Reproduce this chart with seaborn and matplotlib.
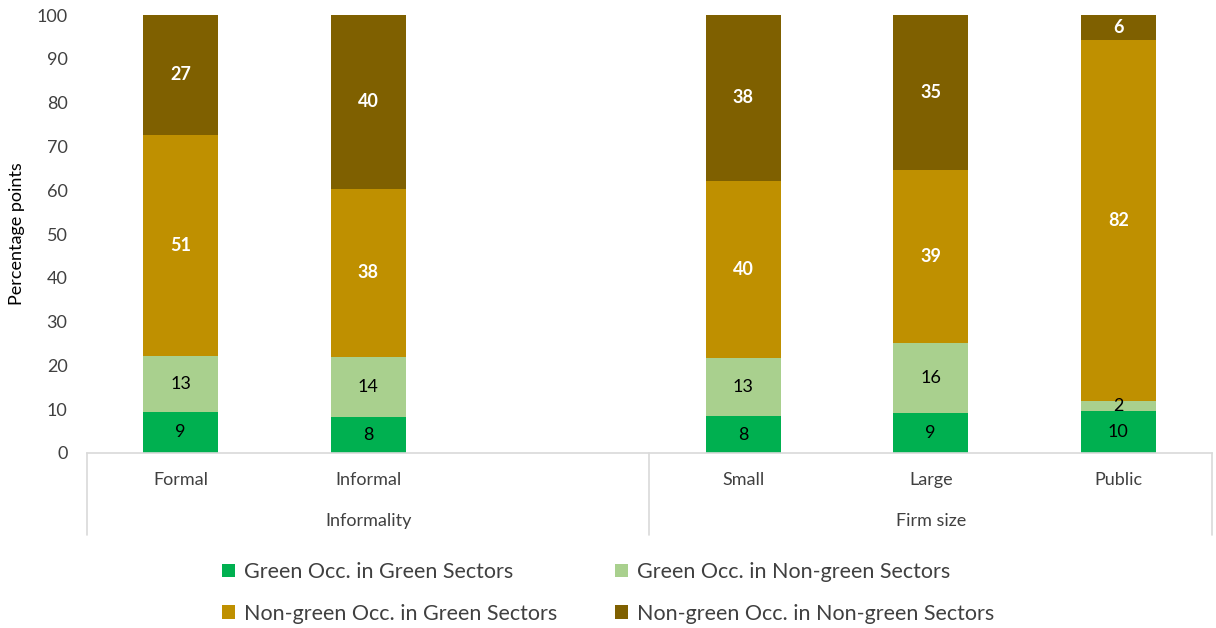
import numpy as np
import pandas as pd
import matplotlib
matplotlib.use("Agg")
import matplotlib.pyplot as plt
import matplotlib.transforms as mtransforms
from matplotlib.patches import Patch
import seaborn as sns

# categories (blank slot separates the two groups)
categories = ["Formal", "Informal", "", "Small", "Large", "Public"]
groups = ["Informality", "Firm size"]

series_names = [
    "Green Occ. in Green Sectors",
    "Green Occ. in Non-green Sectors",
    "Non-green Occ. in Green Sectors",
    "Non-green Occ. in Non-green Sectors",
]
green_green = [9.4, 8.2, np.nan, 8.4, 9.1, 9.6]
green_nongreen = [12.7, 13.7, np.nan, 13.4, 16.1, 2.3]
nongreen_green = [50.6, 38.4, np.nan, 40.4, 39.4, 82.4]
nongreen_nongreen = [27.3, 39.7, np.nan, 37.8, 35.4, 5.7]

colors = ["#00B050", "#A9D08E", "#BF9000", "#7F6000"]
label_colors = ["black", "black", "white", "white"]
label_weights = ["normal", "normal", "bold", "bold"]

series = [green_green, green_nongreen, nongreen_green, nongreen_nongreen]
cum = np.nancumsum(np.array(series, dtype=float), axis=0)
cum[:, 2] = np.nan

sns.set_theme(style="white")
plt.rcParams["font.family"] = ["Lato", "DejaVu Sans"]

fig, ax = plt.subplots(figsize=(12.16, 6.28), dpi=100)
fig.subplots_adjust(left=0.0715, right=0.9967, bottom=0.2787, top=0.976)

# draw cumulative totals from top layer down so lower layers sit on top
for i in range(3, -1, -1):
    df = pd.DataFrame({"cat": categories, "val": cum[i]}).dropna()
    sns.barplot(data=df, x="cat", y="val", order=categories, color=colors[i],
                saturation=1, width=0.4, linewidth=0, ax=ax)

# value labels
for i in range(4):
    for j, cat in enumerate(categories):
        v = series[i][j]
        if np.isnan(v):
            continue
        bottom = cum[i][j] - v
        ax.text(j, bottom + v / 2, f"{v:.0f}", ha="center", va="center",
                fontsize=13, color=label_colors[i], fontweight=label_weights[i])

ax.set_ylim(0, 100)
ax.set_xlim(-0.5, 5.5)
ax.set_yticks(range(0, 101, 10))
ax.tick_params(axis="y", labelsize=13, colors="#404040", length=0, pad=14)
ax.set_ylabel("Percentage points", fontsize=13, color="black", labelpad=8)
ax.set_xlabel("")
ax.set_xticks([0, 1, 3, 4, 5])
ax.set_xticklabels(["Formal", "Informal", "Small", "Large", "Public"])
ax.tick_params(axis="x", labelsize=13, colors="#404040", length=0, pad=14)

for s in ["left", "right", "top"]:
    ax.spines[s].set_visible(False)
ax.spines["bottom"].set_color("#D9D9D9")
ax.spines["bottom"].set_linewidth(1.2)

# multi-level category axis lines and group labels
trans = mtransforms.blended_transform_factory(ax.transData, ax.transAxes)
for xv in [-0.5, 2.5, 5.5]:
    ax.plot([xv, xv], [0, -0.187], transform=trans, color="#D9D9D9", lw=1.2, clip_on=False)
for gx, g in zip([1.0, 4.0], groups):
    ax.text(gx, -0.155, g, transform=trans, ha="center", va="center",
            fontsize=13, color="#404040")

# legend filled row by row like the original
order = [0, 2, 1, 3]
handles = [Patch(facecolor=colors[k], edgecolor="none") for k in order]
labels = [series_names[k] for k in order]
fig.legend(handles, labels, loc="center", bbox_to_anchor=(0.5, 0.056),
           ncol=2, frameon=False, fontsize=15.5, handlelength=0.6, handleheight=0.6,
           handletextpad=0.4, columnspacing=2.7, labelspacing=1.0, labelcolor="#404040")

fig.savefig("out.png", dpi=100)
